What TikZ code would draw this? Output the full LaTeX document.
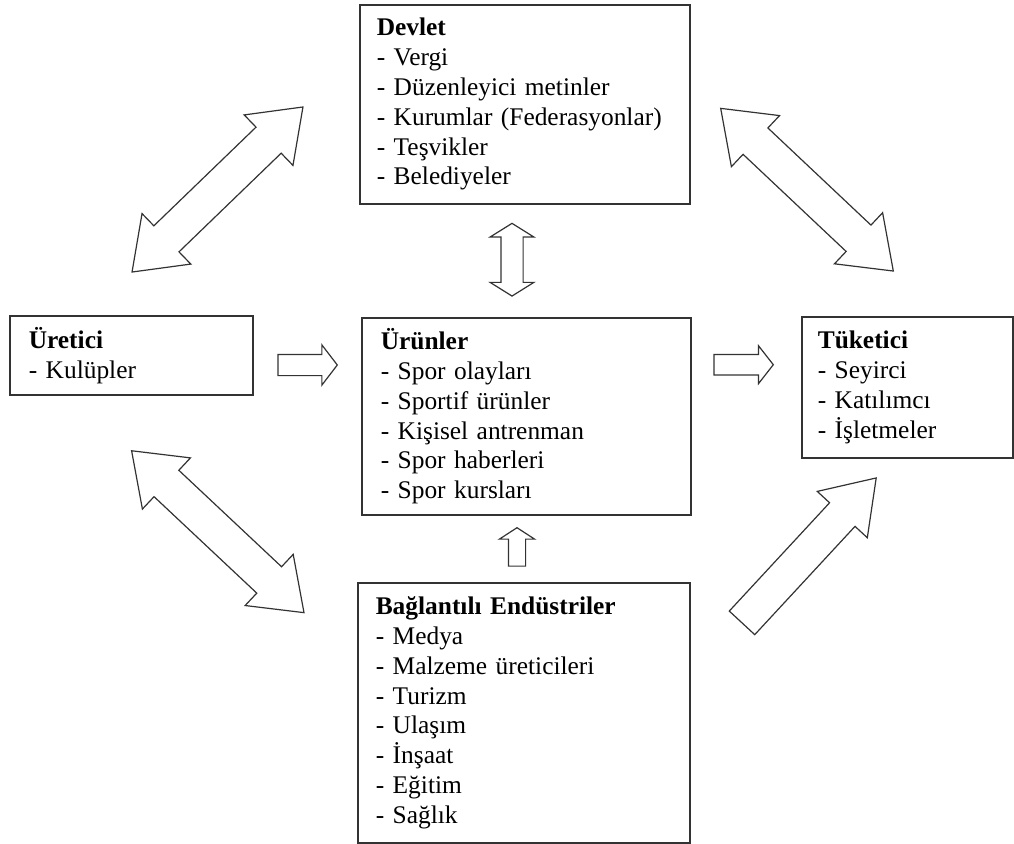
\documentclass[tikz,border=0pt]{standalone}
\usepackage{fontspec}
\setmainfont{Liberation Serif}
\usetikzlibrary{shapes.arrows,positioning}
\tikzset{%
	block/.style    = {draw=black!80, line width=1.6pt, rectangle, anchor=north west, align=left, inner ysep=0pt, font=\fontsize{25.4}{29.8}\selectfont},
	fatarrow/.style = {draw=black!80, line width=1.2pt, single arrow, inner xsep=0pt, anchor=tail},
	dblarrow/.style = {draw=black!80, line width=1.2pt, double arrow, inner xsep=0pt},
}

\begin{document}
\begin{tikzpicture}[x=1pt, y=-1pt]
	\useasboundingbox (0,0) rectangle (1014,843);
	% boxes
	\node[block, text width=296pt, inner xsep=17pt, minimum height=199pt] (devlet) at (359,4)
		{\textbf{Devlet}\\- Vergi\\- Düzenleyici metinler\\- Kurumlar (Federasyonlar)\\- Teşvikler\\- Belediyeler};
	\node[block, text width=205pt, inner xsep=19pt, minimum height=79pt] (uretici) at (9,315)
		{\textbf{Üretici}\\- Kulüpler};
	\node[block, text width=291pt, inner xsep=19pt, minimum height=197pt] (urunler) at (361,317)
		{\textbf{Ürünler}\\- Spor olayları\\- Sportif ürünler\\- Kişisel antrenman\\- Spor haberleri\\- Spor kursları};
	\node[block, text width=179pt, inner xsep=16pt, minimum height=141pt] (tuketici) at (801,316)
		{\textbf{Tüketici}\\- Seyirci\\- Katılımcı\\- İşletmeler};
	\node[block, text width=296pt, inner xsep=18pt, minimum height=260pt] (baglanti) at (357,582)
		{\textbf{Bağlantılı Endüstriler}\\- Medya\\- Malzeme üreticileri\\- Turizm\\- Ulaşım\\- İnşaat\\- Eğitim\\- Sağlık};
	
	% block arrows
	\node[dblarrow, minimum height=237.6pt, inner ysep=17.5pt, double arrow head extend=17pt, double arrow tip angle=72.6, rotate=44] (ud) at (217.5,189.5) {};
	\node[dblarrow, minimum height=237.2pt, inner ysep=17.5pt, double arrow head extend=17pt, double arrow tip angle=72.6, rotate=-43.3] (dt) at (807,189.7) {};
	\node[dblarrow, minimum height=236.5pt, inner ysep=17.5pt, double arrow head extend=17pt, double arrow tip angle=72.6, rotate=-43.2] (ub) at (217.8,531.7) {};
	\node[dblarrow, minimum height=72.7pt, inner ysep=10.5pt, double arrow head extend=10.8pt, double arrow tip angle=116, rotate=90] (dr) at (512,259.7) {};
	\node[fatarrow, minimum height=59.4pt, inner ysep=10pt, single arrow head extend=9.5pt, single arrow tip angle=105] (ur) at (277.3,365) {};
	\node[fatarrow, minimum height=59.4pt, inner ysep=9.6pt, single arrow head extend=8.8pt, single arrow tip angle=104] (rt) at (713.3,364.7) {};
	\node[fatarrow, minimum height=38.4pt, inner ysep=8pt, single arrow head extend=9pt, single arrow tip angle=114, rotate=90] (br) at (517,566.7) {};
	\node[fatarrow, minimum height=197.5pt, inner ysep=16.75pt, single arrow head extend=16.75pt, single arrow tip angle=68.7, rotate=47.2] (bt) at (741.6,623.3) {};
\end{tikzpicture}
\end{document}
